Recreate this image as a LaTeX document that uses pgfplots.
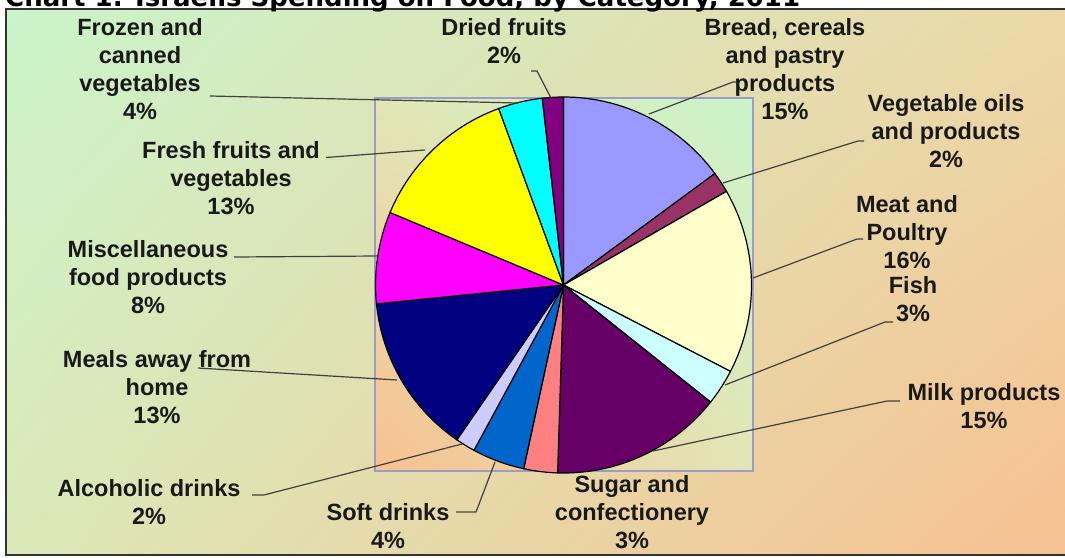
\documentclass[border=0pt]{standalone}
\usepackage{pgfplots}
\pgfplotsset{compat=1.18}
\usepackage{pgfplotstable}
\usetikzlibrary{shadings}
\usepackage{fontspec}
\newfontfamily\labfont{Liberation Sans}
\newfontfamily\titlefont{DejaVu Sans}

\definecolor{cBread}{HTML}{9999FF}
\definecolor{cOil}{HTML}{993366}
\definecolor{cMeat}{HTML}{FFFFCC}
\definecolor{cFish}{HTML}{CCFFFF}
\definecolor{cMilk}{HTML}{660066}
\definecolor{cSugar}{HTML}{FF8080}
\definecolor{cSoft}{HTML}{0066CC}
\definecolor{cAlc}{HTML}{CCCCFF}
\definecolor{cMeals}{HTML}{000080}
\definecolor{cMisc}{HTML}{FF00FF}
\definecolor{cFresh}{HTML}{FFFF00}
\definecolor{cFrozen}{HTML}{00FFFF}
\definecolor{cDried}{HTML}{800080}
\definecolor{bgGreen}{HTML}{CAF4CA}
\definecolor{bgMixTR}{HTML}{ECD8A8}
\definecolor{bgMixBL}{HTML}{DCE8B8}
\definecolor{bgMix}{HTML}{E2E6B6}
\definecolor{bgOrange}{HTML}{F8C090}
\definecolor{leader}{HTML}{404040}

% base anchor of a multi-line label = baseline of its last line
\tikzset{
  lab/.style={font=\labfont\bfseries\fontsize{23.5}{28}\selectfont,
      align=center, anchor=base, inner sep=0pt, text=black!90},
  lead/.style={draw=leader, line width=1.2pt},
}

% share of spending, clockwise from 12 o'clock
\pgfplotstableread{
name value color
Bread 14.9 cBread
Oils 1.8 cOil
Meat 15.9 cMeat
Fish 3.1 cFish
Milk 14.8 cMilk
Sugar 2.9 cSugar
Soft 4.5 cSoft
Alcohol 1.7 cAlc
Meals 13.8 cMeals
Misc 7.9 cMisc
Fresh 13.1 cFresh
Frozen 3.8 cFrozen
Dried 1.8 cDried
}\piedata

\begin{document}
\begin{tikzpicture}
\useasboundingbox (0,0) rectangle (1065pt,557pt);
\clip (0,0) rectangle (1065pt,557pt);
\fill[white] (0,0) rectangle (1065pt,557pt);
\begin{axis}[
    at={(0,0)}, anchor=south west,
    scale only axis, width=1065pt, height=557pt,
    xmin=0, xmax=1065, ymin=0, ymax=557,
    y dir=reverse,
    axis lines=none, clip=false,
]
% chart area and plot area backgrounds
\shade[upper left=bgGreen, upper right=bgMixTR, lower left=bgMixBL, lower right=bgOrange]
    (axis cs:6,9) rectangle (axis cs:1075,555);
\draw[black!80, line width=2pt] (axis cs:6,9) rectangle (axis cs:1075,555);
\shade[upper left=bgMix, upper right=bgGreen, lower left=bgOrange, lower right=bgMix]
    (axis cs:375,98) rectangle (axis cs:753,471);
\draw[gray!70!blue!60, line width=2pt] (axis cs:375,98) rectangle (axis cs:753,471);

\node[anchor=base west, inner sep=0pt, font=\titlefont\bfseries\fontsize{26}{30}\selectfont]
    at (axis cs:5,6) {Chart 1: Israelis Spending on Food, by Category, 2011};

% pie wedges from the table
\pgfplotstablegetrowsof{\piedata}
\pgfmathtruncatemacro\N{\pgfplotsretval-1}
\def\cum{0}
\pgfplotsforeachungrouped \i in {0,...,\N}{
  \pgfplotstablegetelem{\i}{value}\of\piedata \let\v\pgfplotsretval
  \pgfplotstablegetelem{\i}{color}\of\piedata \let\c\pgfplotsretval
  \pgfmathsetmacro\a{90-3.6*\cum}
  \pgfmathsetmacro\b{90-3.6*(\cum+\v)}
  \edef\temp{\noexpand\filldraw[fill=\c, draw=black, line width=1.2pt, line join=round]
    (axis cs:563.5,285) -- +(\a:188pt) arc[start angle=\a, end angle=\b, radius=188pt] -- cycle;}
  \temp
  \pgfmathsetmacro\cum{\cum+\v}
}

% leader lines
\draw[lead] (axis cs:531,71) -- (axis cs:537,71) -- (axis cs:551,98);
\draw[lead] (axis cs:649,114) -- (axis cs:733,82) -- (axis cs:739,82);
\draw[lead] (axis cs:723,183) -- (axis cs:858,141) -- (axis cs:864,141);
\draw[lead] (axis cs:753,278) -- (axis cs:857,239) -- (axis cs:863,239);
\draw[lead] (axis cs:725,385) -- (axis cs:885,322) -- (axis cs:893,322);
\draw[lead] (axis cs:653,451) -- (axis cs:887,401) -- (axis cs:900,401);
\draw[lead] (axis cs:495,462) -- (axis cs:476,512) -- (axis cs:456,512);
\draw[lead] (axis cs:462,444) -- (axis cs:264,495) -- (axis cs:252,495);
\draw[lead] (axis cs:198,368) -- (axis cs:397,380);
\draw[lead] (axis cs:234,257) -- (axis cs:377,256);
\draw[lead] (axis cs:326,157.5) -- (axis cs:425,150);
\draw[lead] (axis cs:210,96) -- (axis cs:518,103);

% data labels (y = baseline of the last line)
\node[lab] at (axis cs:140,119) {Frozen and\\canned\\vegetables\\4\%};
\node[lab] at (axis cs:504,63) {Dried fruits\\2\%};
\node[lab] at (axis cs:785,119) {Bread, cereals\\and pastry\\products\\15\%};
\node[lab] at (axis cs:946,167) {Vegetable oils\\and products\\2\%};
\node[lab] at (axis cs:907,268) {Meat and\\Poultry\\16\%};
\node[lab] at (axis cs:913,321) {Fish\\3\%};
\node[lab] at (axis cs:984,428) {Milk products\\15\%};
\node[lab] at (axis cs:632,548) {Sugar and\\confectionery\\3\%};
\node[lab] at (axis cs:388,548) {Soft drinks\\4\%};
\node[lab] at (axis cs:149,524) {Alcoholic drinks\\2\%};
\node[lab] at (axis cs:157,423) {Meals away from\\home\\13\%};
\node[lab] at (axis cs:148,313) {Miscellaneous\\food products\\8\%};
\node[lab] at (axis cs:231,214) {Fresh fruits and\\vegetables\\13\%};
\end{axis}
\end{tikzpicture}
\end{document}
